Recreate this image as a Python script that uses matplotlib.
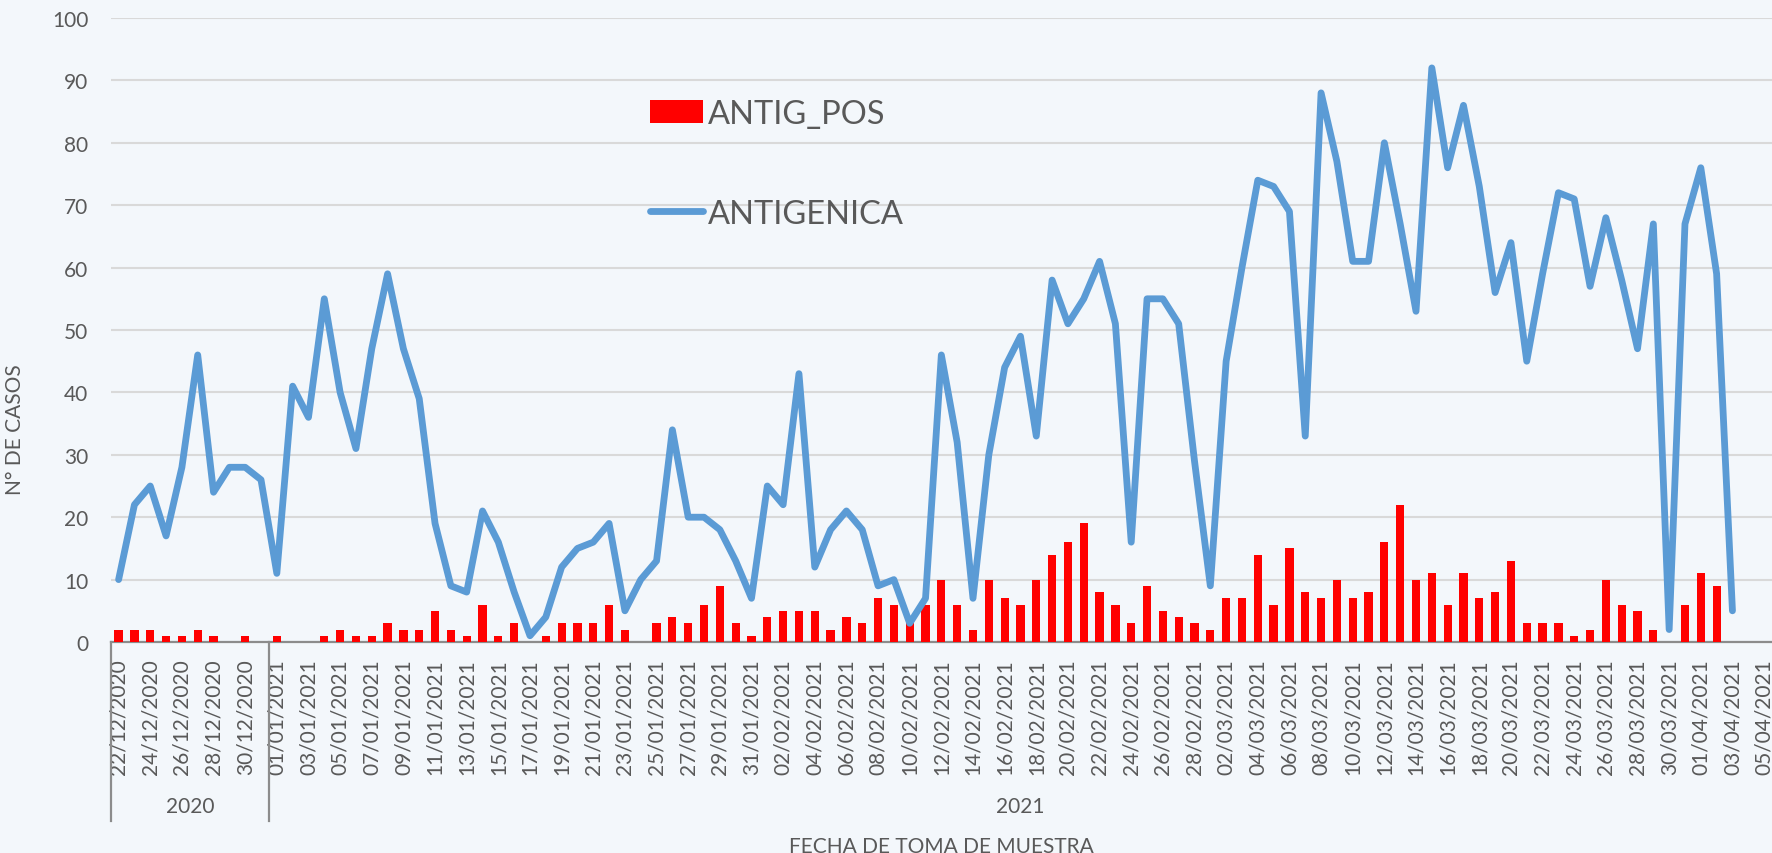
import matplotlib
matplotlib.use("Agg")
import matplotlib.pyplot as plt
import matplotlib.transforms as mtransforms
from matplotlib.patches import Patch
from matplotlib.lines import Line2D
import datetime as dt

# ---------------- data ----------------
start_date = dt.date(2020, 12, 22)
n_days = 105  # 22/12/2020 .. 05/04/2021
dates = [start_date + dt.timedelta(days=i) for i in range(n_days)]
date_labels = [d.strftime("%d/%m/%Y") for d in dates]

antig_pos = [2, 2, 2, 1, 1, 2, 1, 0, 1, 0,
             1, 0, 0, 1, 2, 1, 1, 3, 2, 2,
             5, 2, 1, 6, 1, 3, 0, 1, 3, 3,
             3, 6, 2, 0, 3, 4, 3, 6, 9, 3,
             1, 4, 5, 5, 5, 2, 4, 3, 7, 6,
             3, 6, 10, 6, 2, 10, 7, 6, 10, 14,
             16, 19, 8, 6, 3, 9, 5, 4, 3, 2,
             7, 7, 14, 6, 15, 8, 7, 10, 7, 8,
             16, 22, 10, 11, 6, 11, 7, 8, 13, 3,
             3, 3, 1, 2, 10, 6, 5, 2, 0, 6,
             11, 9, 0, 0, 0]

antigenica = [10, 22, 25, 17, 28, 46, 24, 28, 28, 26,
              11, 41, 36, 55, 40, 31, 47, 59, 47, 39,
              19, 9, 8, 21, 16, 8, 1, 4, 12, 15,
              16, 19, 5, 10, 13, 34, 20, 20, 18, 13,
              7, 25, 22, 43, 12, 18, 21, 18, 9, 10,
              3, 7, 46, 32, 7, 30, 44, 49, 33, 58,
              51, 55, 61, 51, 16, 55, 55, 51, 29, 9,
              45, 60, 74, 73, 69, 33, 88, 77, 61, 61,
              80, 67, 53, 92, 76, 86, 73, 56, 64, 45,
              59, 72, 71, 57, 68, 58, 47, 67, 2, 67,
              76, 59, 5]

years = ["2020", "2021"]
year_counts = [10, 95]

y_ticks = list(range(0, 101, 10))

# ---------------- style ----------------
FONT = "Lato"
TXT = "#595959"
BG = "#f3f7fb"
RED = "#ff0000"
BLUE = "#5b9bd5"

plt.rcParams["font.family"] = [FONT, "DejaVu Sans"]

W, H = 1772, 854
fig = plt.figure(figsize=(W / 100, H / 100), dpi=100, facecolor=BG)

ax = fig.add_axes([110.7 / W, 1 - 643 / H, (W - 110.7) / W, (643 - 19) / H])
ax.set_facecolor("none")

x = list(range(n_days))
ax.bar(x, antig_pos, width=0.52, color=RED, zorder=3, label="ANTIG_POS")
ax.plot(list(range(len(antigenica))), antigenica, color=BLUE, lw=4.9,
        solid_capstyle="round", solid_joinstyle="round", zorder=4,
        label="ANTIGENICA")

ax.set_xlim(-0.5, n_days - 0.5)
ax.set_ylim(0, 100)
ax.set_yticks(y_ticks)
ax.set_yticklabels([str(v) for v in y_ticks])
ax.yaxis.grid(True, color="#d9d9d9", lw=1.5, zorder=0)
ax.set_axisbelow(True)

ax.set_xticks(x[::2])
ax.set_xticklabels(date_labels[::2], rotation=90)
ax.tick_params(axis="x", length=0, pad=12, labelsize=15, labelcolor=TXT)
ax.tick_params(axis="y", length=0, pad=16, labelsize=15, labelcolor=TXT)

for s in ["top", "right", "left"]:
    ax.spines[s].set_visible(False)
ax.spines["bottom"].set_color("#8c8c8c")
ax.spines["bottom"].set_linewidth(1.6)

# category grouping (years)
trans = mtransforms.blended_transform_factory(ax.transData, ax.transAxes)
y_sep = (643 - 822) / (643 - 19)
y_year = (643 - 807) / (643 - 19)
edge = -0.5
for name, cnt in zip(years, year_counts):
    ax.plot([edge, edge], [0, y_sep], transform=trans, color="#8c8c8c",
            lw=1.6, clip_on=False)
    ax.text(edge + cnt / 2, y_year, name, transform=trans, ha="center",
            va="center", fontsize=15, color=TXT)
    edge += cnt

ax.text(0.5, (643 - 847) / (643 - 19), "FECHA DE TOMA DE MUESTRA",
        transform=ax.transAxes, ha="center", va="center", fontsize=15,
        color=TXT)
ax.set_ylabel("N° DE CASOS", fontsize=15, color=TXT)
ax.yaxis.set_label_coords((25 - 110.7) / (W - 110.7), (643 - 430) / (643 - 19))

handles = [Patch(facecolor=RED, edgecolor="none"),
           Line2D([0], [0], color=BLUE, lw=4.9, solid_capstyle="round")]
leg = fig.legend(handles, ["ANTIG_POS", "ANTIGENICA"], loc="upper left",
                 bbox_to_anchor=(650 / W, 1 - 100 / H), frameon=False,
                 fontsize=23.5, labelspacing=2.14, handlelength=1.63,
                 handletextpad=0.15, borderpad=0, borderaxespad=0)
for t in leg.get_texts():
    t.set_color(TXT)

fig.savefig("out.png", dpi=100, facecolor=BG)
